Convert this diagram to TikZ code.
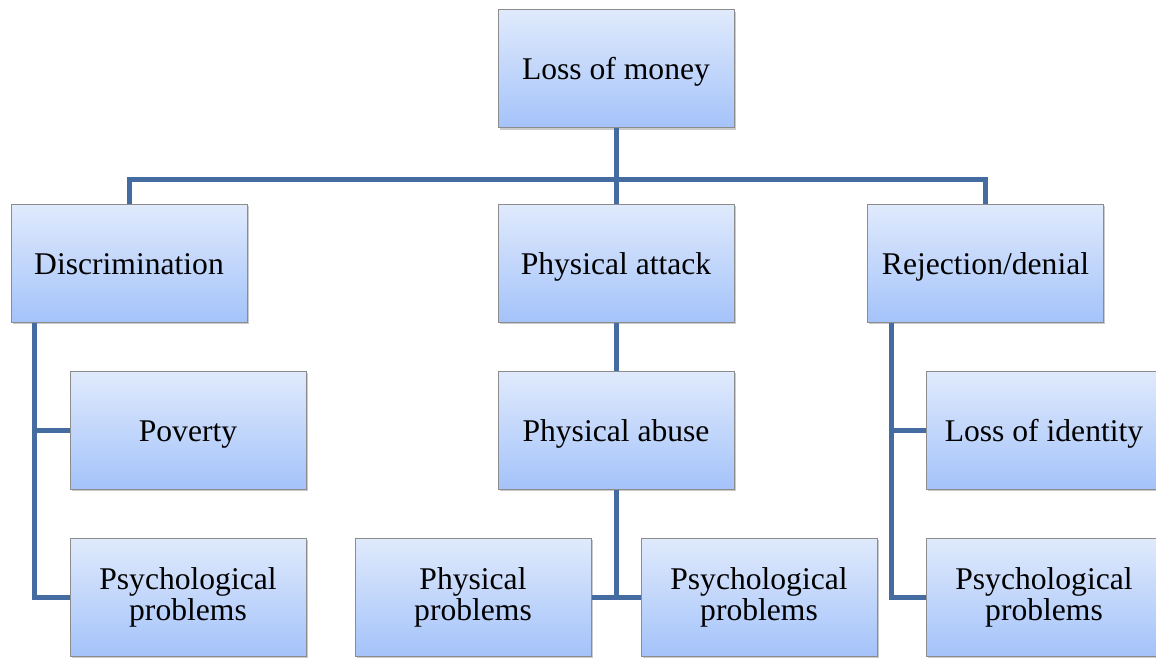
\documentclass[tikz,border=0pt]{standalone}
\usepackage{fontspec}
\setmainfont{Liberation Serif}
\usetikzlibrary{shadows}
\definecolor{boxtop}{RGB}{224,234,252}
\definecolor{boxbot}{RGB}{164,195,250}
\definecolor{boxline}{RGB}{140,140,140}
\definecolor{conn}{RGB}{68,108,160}
\begin{document}
\begin{tikzpicture}[x=0.5pt,y=-0.5pt,
  box/.style={rectangle, draw=boxline, line width=0.5pt,
    top color=boxtop, bottom color=boxbot,
    minimum width=118pt, minimum height=59pt, inner sep=2pt,
    align=center, font=\fontsize{15.8}{15.5}\selectfont,
    drop shadow={shadow xshift=0.8pt, shadow yshift=-1pt, opacity=0.35, fill=black!60}},
  oneline/.style={box, text height=12pt, text depth=1pt},
  link/.style={draw=conn, line width=2.5pt}]
\useasboundingbox (0,0) rectangle (1156,658);
\clip (0,0) rectangle (1156,658);
\node[oneline] (money) at (616,69) {Loss of money};
\node[oneline] (disc) at (129,263) {Discrimination};
\node[oneline] (attack) at (616,263) {Physical attack};
\node[oneline] (rej) at (985.5,263) {Rejection/denial};
\node[oneline] (pov) at (188,430) {Poverty};
\node[box] (psyA) at (188,597) {Psychological\\problems};
\node[oneline] (abuse) at (616,430) {Physical abuse};
\node[box] (phys) at (473,597) {Physical\\problems};
\node[box] (psyB) at (759,597) {Psychological\\problems};
\node[oneline] (ident) at (1044,430) {Loss of identity};
\node[box] (psyC) at (1044,597) {Psychological\\problems};
\coordinate (bar) at (616,179);
\path[link] (money.south) -- (bar);
\path[link] (disc.north) |- (bar) -| (rej.north);
\path[link] (bar) -- (attack.north);
\path[link] (attack.south) -- (abuse.north);
\path[link] ([xshift=12pt]disc.south west) |- (pov.west);
\path[link] ([xshift=12pt]disc.south west) |- (psyA.west);
\path[link] (abuse.south) |- (phys.east);
\path[link] (abuse.south) |- (psyB.west);
\path[link] ([xshift=12pt]rej.south west) |- (ident.west);
\path[link] ([xshift=12pt]rej.south west) |- (psyC.west);
\end{tikzpicture}
\end{document}
